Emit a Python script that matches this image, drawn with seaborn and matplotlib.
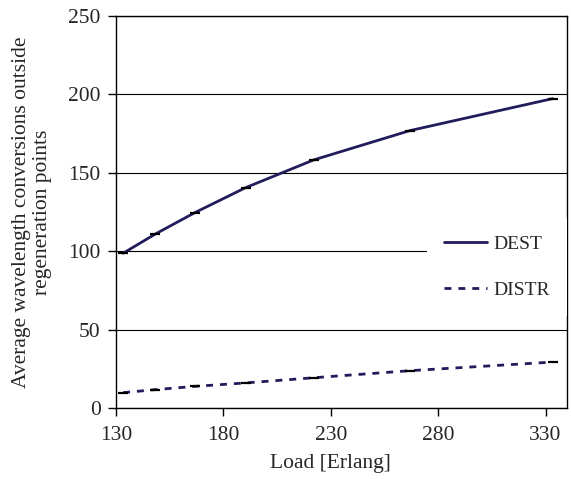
"""Average wavelength conversions outside regeneration points vs. load."""
import matplotlib
matplotlib.use("Agg")
import matplotlib.pyplot as plt
import pandas as pd
import seaborn as sns

load = [133.3, 148.1, 166.7, 190.3, 222.0, 266.8, 333.3]
dest = [98.7, 110.8, 124.6, 140.5, 158.2, 176.9, 197.3]
distr = [9.8, 11.7, 13.8, 16.0, 19.3, 23.8, 29.3]

x_ticks = [130, 180, 230, 280, 330]
y_ticks = [0, 50, 100, 150, 200, 250]

df = pd.DataFrame({"Load": load, "DEST": dest, "DISTR": distr})
df_long = df.melt(id_vars="Load", var_name="Scheme", value_name="Conversions")

sns.set_style("white")
plt.rcParams["font.family"] = ["Liberation Serif", "DejaVu Serif"]

fig = plt.figure(figsize=(5.71, 4.79), dpi=100)
ax = fig.add_axes([0.2032, 0.1482, 0.7898, 0.8184])

line_color = "#211c5c"
sns.lineplot(
    data=df_long,
    x="Load",
    y="Conversions",
    hue="Scheme",
    style="Scheme",
    palette={"DEST": line_color, "DISTR": line_color},
    dashes={"DEST": "", "DISTR": (2.5, 2.5)},
    linewidth=2,
    ax=ax,
    zorder=3,
)
sns.scatterplot(
    data=df_long,
    x="Load",
    y="Conversions",
    marker="_",
    s=50,
    color="black",
    linewidth=1.6,
    ax=ax,
    zorder=4,
    legend=False,
)

ax.set_xlim(130, 340)
ax.set_ylim(0, 250)
ax.set_xticks(x_ticks)
ax.set_yticks(y_ticks)
ax.yaxis.grid(True, color="black", linewidth=0.8)
ax.xaxis.grid(False)
for s in ax.spines.values():
    s.set_color("black")
    s.set_linewidth(1.0)
ax.tick_params(axis="both", direction="out", length=6, width=1, color="black",
               labelsize=15.5, bottom=True, left=True)
ax.tick_params(axis="x", pad=7)
ax.tick_params(axis="y", pad=5)
ax.set_xlabel("Load [Erlang]", fontsize=15.5)
ax.xaxis.set_label_coords(0.475, -0.117)
ax.set_ylabel("Average wavelength conversions outside\nregeneration points",
              fontsize=15.5, labelpad=12, linespacing=1.1)

handles, labels = ax.get_legend_handles_labels()
leg = ax.legend(handles, labels, loc="center right", bbox_to_anchor=(1.0, 0.36),
                fontsize=14, frameon=True, facecolor="white", edgecolor="none",
                framealpha=1, fancybox=False, handlelength=2.2, handletextpad=0.3,
                labelspacing=1.45, borderpad=0.9, borderaxespad=0.0)
leg.set_zorder(5)

fig.savefig("out.png", dpi=100)
plt.close(fig)
